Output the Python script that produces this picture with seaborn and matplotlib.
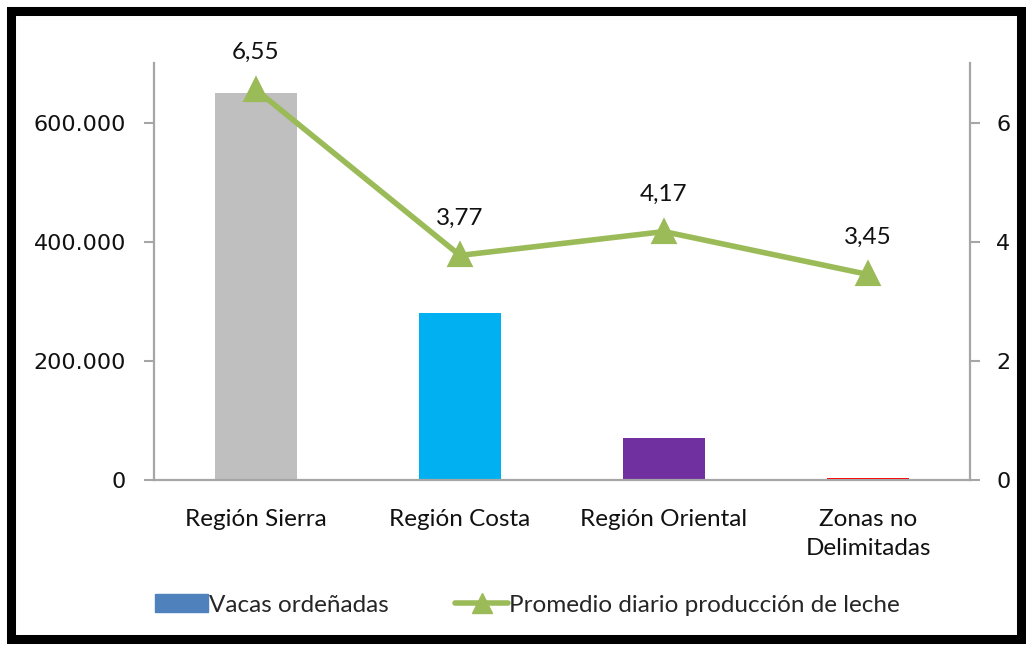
import matplotlib.pyplot as plt
from matplotlib.patches import Patch, Rectangle
from matplotlib.lines import Line2D
import pandas as pd
import seaborn as sns

# datos
regiones = ['Región Sierra', 'Región Costa', 'Región Oriental', 'Zonas no\nDelimitadas']
vacas = [650000, 280000, 70000, 4000]
promedio = [6.55, 3.77, 4.17, 3.45]
etiquetas = ['6,55', '3,77', '4,17', '3,45']
colores = ['#BFBFBF', '#00B0F0', '#7030A0', '#FF0000']
ticks_izq = [0, 200000, 400000, 600000]
ticks_izq_txt = ['0', '200.000', '400.000', '600.000']
ticks_der = [0, 2, 4, 6]

verde = '#9BBB59'
gris = '#A6A6A6'
texto = '#111111'

sns.set_style('white')
plt.rcParams['font.family'] = ['Lato', 'DejaVu Sans']

df = pd.DataFrame({'region': regiones, 'vacas': vacas, 'promedio': promedio})

W, H = 1026, 645
fig = plt.figure(figsize=(W / 100, H / 100), dpi=100)
ax = fig.add_axes([154 / W, 1 - 480 / H, 816 / W, 417 / H])

sns.barplot(data=df, x='region', y='vacas', hue='region', palette=colores,
            width=0.4, saturation=1, legend=False, linewidth=0, ax=ax)

ax2 = ax.twinx()
sns.pointplot(data=df, x='region', y='promedio', color=verde, markers='^',
              markersize=14, linewidth=4, ax=ax2)
for i, (v, t) in enumerate(zip(promedio, etiquetas)):
    ax2.annotate(t, (i, v), xytext=(0, 27), textcoords='offset points',
                 ha='center', va='center', fontsize=17.5, color=texto)

ax.set_xlim(-0.5, 3.5)
ax.set_ylim(0, 700000)
ax2.set_ylim(0, 7)
ax.set_xlabel('')
ax.set_ylabel('')
ax2.set_ylabel('')

ax.set_xticks(range(len(regiones)))
ax.set_xticklabels(regiones, fontsize=17.5, color=texto, linespacing=1.45)
ax.set_xticks([0.5, 1.5, 2.5], minor=True)
ax.tick_params(axis='x', which='major', length=0, pad=21)
ax.tick_params(axis='x', which='minor', length=7, width=1.5, color=gris, direction='out')

ax.set_yticks(ticks_izq)
ax.set_yticklabels(ticks_izq_txt, family='DejaVu Sans', fontsize=16, color=texto)
ax.tick_params(axis='y', length=7, width=1.5, color=gris, direction='out', pad=13, left=True)

ax2.set_yticks(ticks_der)
ax2.set_yticklabels([str(t) for t in ticks_der], family='DejaVu Sans', fontsize=16, color=texto)
ax2.tick_params(axis='y', length=7, width=1.5, color=gris, direction='out', pad=12, right=True)

for a in (ax, ax2):
    a.spines['top'].set_visible(False)
    for s in ('left', 'right', 'bottom'):
        a.spines[s].set_color(gris)
        a.spines[s].set_linewidth(1.6)
ax.spines['right'].set_visible(False)
ax2.spines['left'].set_visible(False)
ax2.spines['bottom'].set_visible(False)

handles = [Patch(color='#4F81BD', label='Vacas ordeñadas'),
           Line2D([0], [0], color=verde, lw=4, marker='^', markersize=14,
                  label='Promedio diario producción de leche')]
fig.legend(handles=handles, loc='center left', bbox_to_anchor=(145 / W, 1 - 605 / H),
           ncol=2, frameon=False, fontsize=17.5, handlelength=2.2, handletextpad=0.05,
           columnspacing=2.7, borderaxespad=0)

# marco negro
fig.add_artist(Rectangle((11 / W, 6 / H), 1010 / W, 628 / H, transform=fig.transFigure,
                         fill=False, edgecolor='black', linewidth=6.5))

fig.savefig('out.png', dpi=100)
